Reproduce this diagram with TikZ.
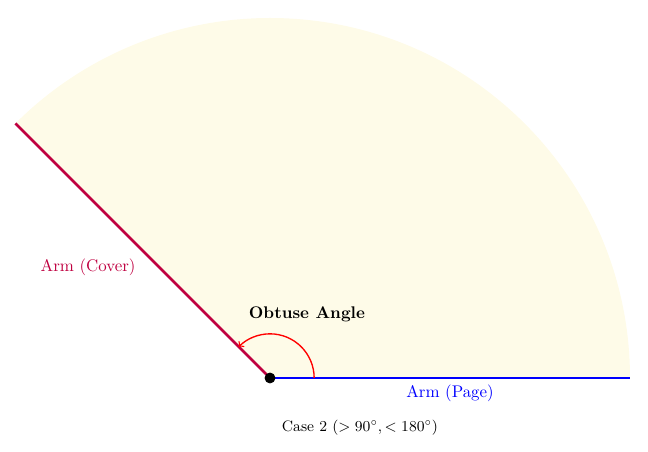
\documentclass[tikz,border=0pt]{standalone}
\usepackage{tikz}
\usepackage{amsmath}
\usetikzlibrary{calc}
\usetikzlibrary{positioning}
\definecolor{sectorfill}{RGB}{254,251,232}

\begin{document}
\begin{tikzpicture}
        % Parameters
        \def\R{7.5}   % Length of the arms
        \def\ang{135} % Opening angle
        \def\r{0.92}  % Radius of the angle mark

        \useasboundingbox (-5.625,-1.5417) rectangle (7.875,7.875);

        % Sector
        \fill[sectorfill] (0,0) -- (\R,0) arc (0:\ang:\R) -- cycle;

        % Named points
        \coordinate (O) at (0,0);
        \coordinate (P) at (\R,0);
        \coordinate (C) at (\ang:\R);

        % Arms
        \draw[ultra thick, blue] (O) -- (P); % Page arm
        \draw[ultra thick, purple] (O) -- (C); % Cover arm
        \filldraw[black] (O) circle (3pt); % Vertex

        % Angle mark
        \draw[thick, red, ->] (\r,0) arc (0:\ang:\r);

        % Labels
        \node[purple] (cover) at (-3.79,2.31) {Arm (Cover)};
        \node[blue] (page) at (3.75,-0.31) {Arm (Page)};
        \node (obtuse) at (0.77,1.33) {\textbf{Obtuse Angle}};
        \node[font=\small] (case) at (1.875,-1.04) {Case 2 ($>90^\circ, <180^\circ$)};
    \end{tikzpicture}
\end{document}
